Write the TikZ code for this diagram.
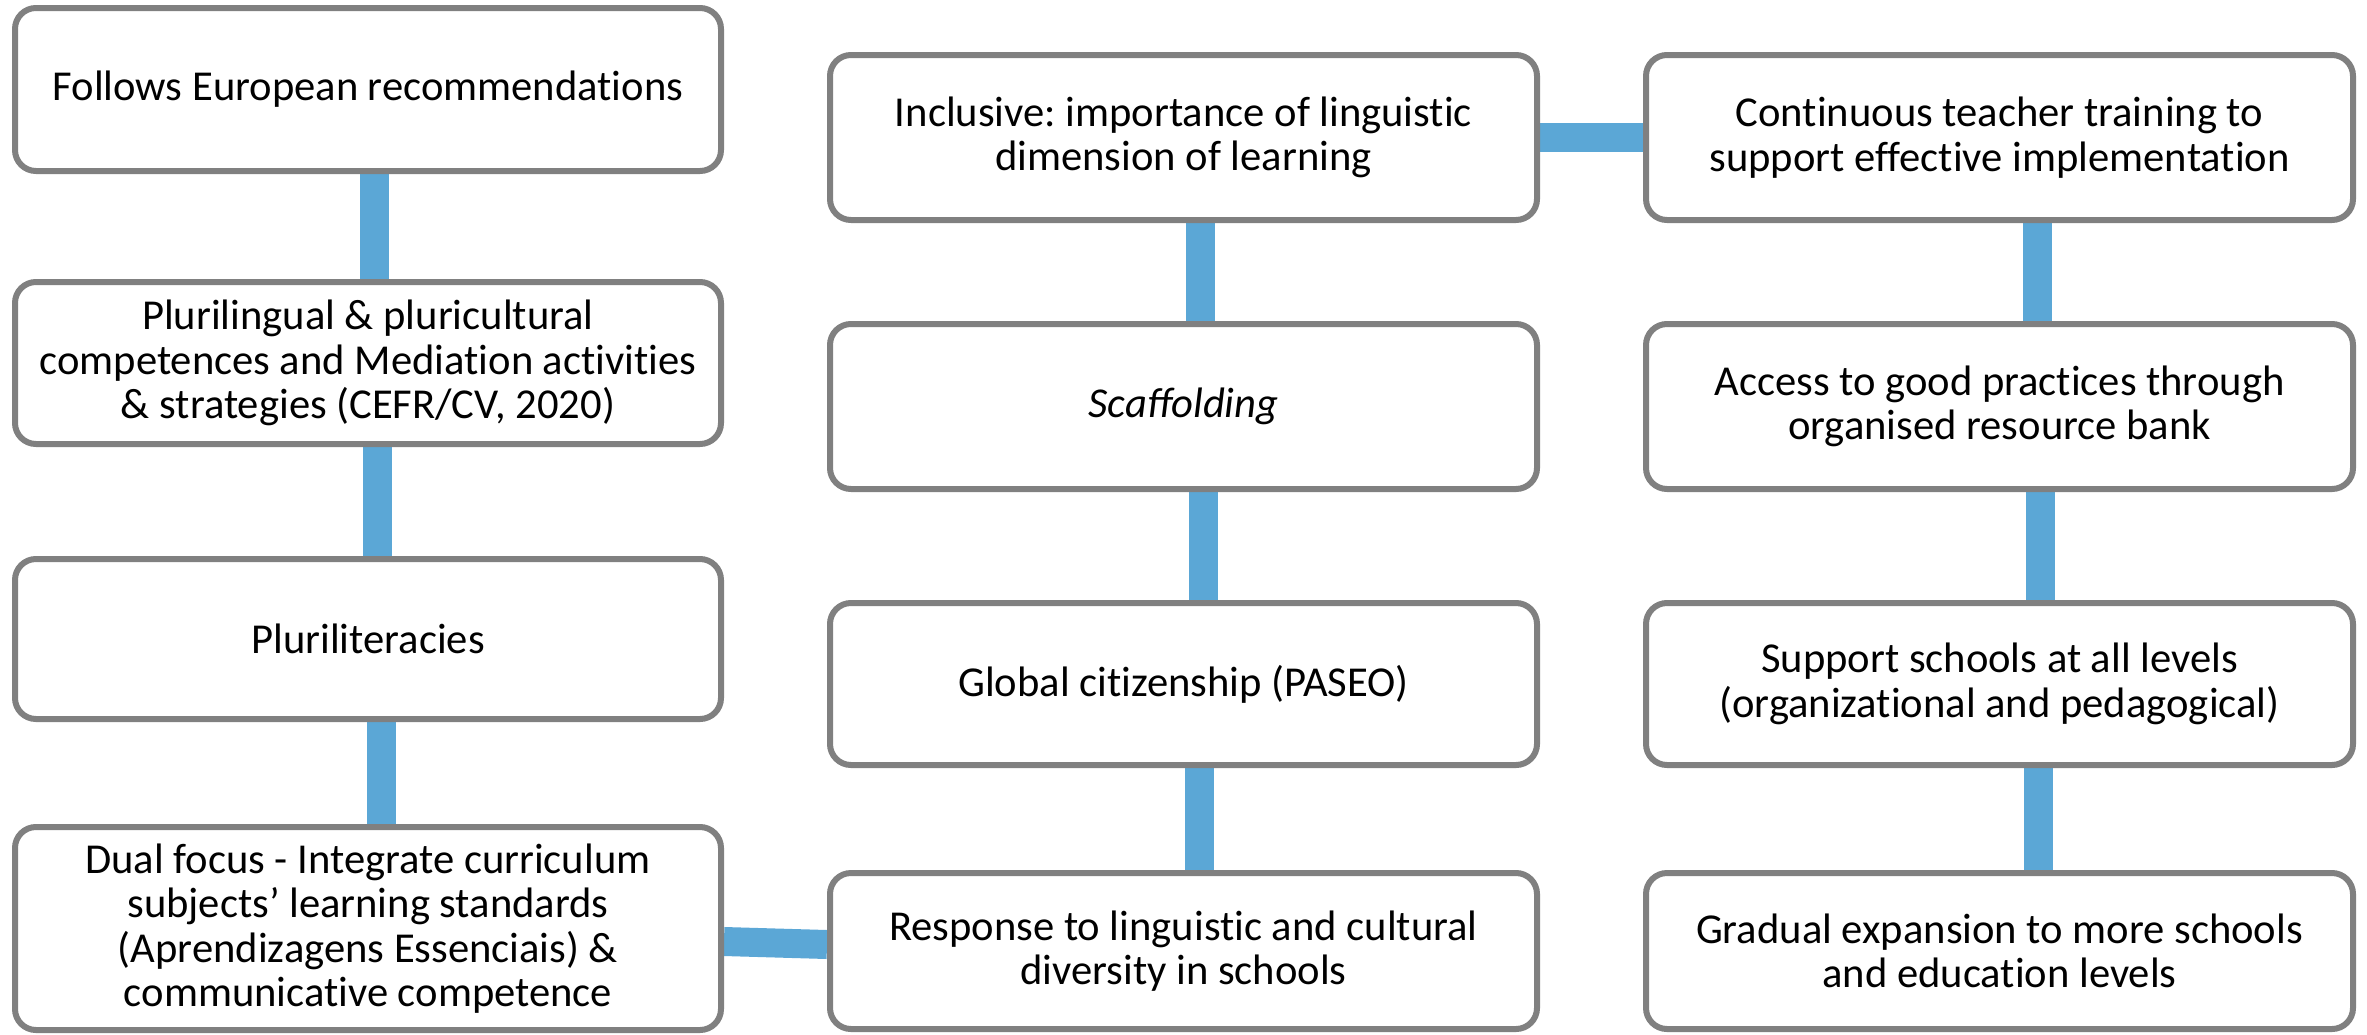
\documentclass[tikz,border=0pt]{standalone}
\usepackage{fontspec}
\setmainfont{Carlito}[Ligatures=NoCommon]
\newfontfamily\ligfont{Carlito}
\frenchspacing
\usetikzlibrary{backgrounds}
\definecolor{boxgray}{HTML}{808080}
\definecolor{connblue}{HTML}{5BA7D6}
\begin{document}
\begin{tikzpicture}[x=1pt,y=-1pt,
  box/.style={draw=boxgray, line width=6pt, fill=white, rounded corners=21pt,
    inner sep=0pt, align=center, font=\fontsize{42.6}{44.5}\selectfont},
  conn/.style={draw=connblue, line width=29pt}]
\useasboundingbox (0,0) rectangle (2367,1034);
% column 1
\node[box, minimum width=706pt, minimum height=163pt] (a1) at (368,89.5) {Follows European recommendations};
\node[box, minimum width=706pt, minimum height=162pt] (a2) at (368,363) {Plurilingual \& pluricultural\\competences and Mediation activities\\\& strategies (CEFR/CV, 2020)};
\node[box, minimum width=706pt, minimum height=160pt] (a3) at (368,639) {Pluriliteracies};
\node[box, minimum width=706pt, minimum height=203pt] (a4) at (368,928.5) {Dual focus - Integrate curriculum\\subjects’ learning standards\\(Aprendizagens Essenciais) \&\\communicative competence};
% column 2
\node[box, minimum width=707pt, minimum height=165pt] (b1) at (1183.5,137.5) {Inclusive: importance of linguistic\\dimension of learning};
\node[box, minimum width=707pt, minimum height=165pt] (b2) at (1183.5,406.5) {\ligfont\itshape Scaffolding};
\node[box, minimum width=707pt, minimum height=162pt] (b3) at (1183.5,684) {Global citizenship (PASEO)};
\node[box, minimum width=707pt, minimum height=156pt] (b4) at (1183.5,951) {Response to linguistic and cultural\\diversity in schools};
% column 3
\node[box, minimum width=707pt, minimum height=165pt] (c1) at (1999.5,137.5) {Continuous teacher training to\\support effective implementation};
\node[box, minimum width=707pt, minimum height=165pt] (c2) at (1999.5,406.5) {Access to good practices through\\organised resource bank};
\node[box, minimum width=707pt, minimum height=162pt] (c3) at (1999.5,684) {Support schools at all levels\\(organizational and pedagogical)};
\node[box, minimum width=707pt, minimum height=156pt] (c4) at (1999.5,951) {Gradual expansion to more schools\\and education levels};
\begin{pgfonlayer}{background}
\fill[white] (0,0) rectangle (2367,1034);
\draw[conn] ([xshift=6pt]a1.south) -- ([xshift=6pt]a2.north);
\draw[conn] ([xshift=9pt]a2.south) -- ([xshift=9pt]a3.north);
\draw[conn] ([xshift=13pt]a3.south) -- ([xshift=13pt]a4.north);
\draw[conn] ([xshift=17pt]b1.south) -- ([xshift=17pt]b2.north);
\draw[conn] ([xshift=20pt]b2.south) -- ([xshift=20pt]b3.north);
\draw[conn] ([xshift=16pt]b3.south) -- ([xshift=16pt]b4.north);
\draw[conn] ([xshift=38pt]c1.south) -- ([xshift=38pt]c2.north);
\draw[conn] ([xshift=41pt]c2.south) -- ([xshift=41pt]c3.north);
\draw[conn] ([xshift=39pt]c3.south) -- ([xshift=39pt]c4.north);
\draw[conn] (b1.east) -- (c1.west);
\draw[conn] ([yshift=-13pt]a4.east) -- ([yshift=6.5pt]b4.west);
\end{pgfonlayer}
\end{tikzpicture}
\end{document}
